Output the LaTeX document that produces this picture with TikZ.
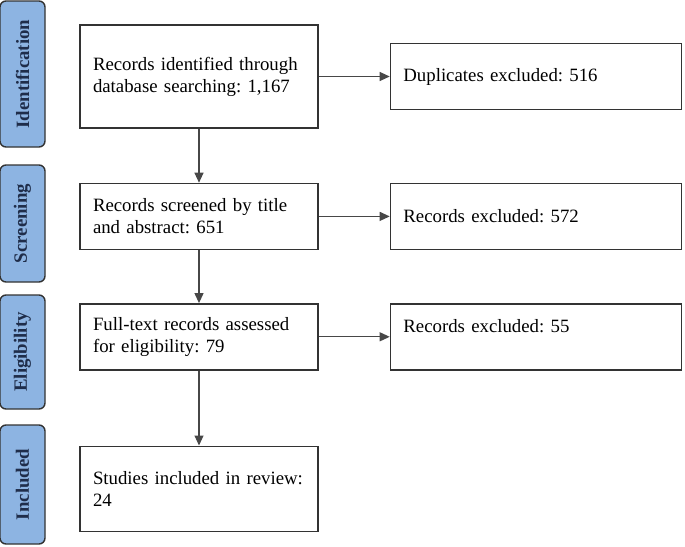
\documentclass[tikz,border=0pt]{standalone}
\usepackage{fontspec}
\setmainfont{Liberation Serif}
\usepackage{xcolor}
\usetikzlibrary{arrows.meta,positioning}
\definecolor{stagefill}{HTML}{8DB4E2}
\definecolor{stagetext}{HTML}{1F2D4A}
\definecolor{edgegray}{HTML}{333333}
\frenchspacing
\tikzset{
  box/.style={draw=edgegray, line width=1.4pt, align=left, text width=212pt, inner xsep=13pt, minimum height=66pt, fill=white, font=\fontsize{18.8}{22}\selectfont},
  excl/.style={box, text width=265pt},
  stage/.style={draw=edgegray, line width=1.4pt, rounded corners=6pt, fill=stagefill, rotate=90, minimum height=45pt, inner sep=0pt, text=stagetext, font=\bfseries\fontsize{18.8}{22}\selectfont},
  arr/.style={-{Triangle[length=10pt,width=9pt]}, line width=1.1pt, draw=edgegray!90},
}
\begin{document}
\begin{tikzpicture}[x=1pt, y=-1pt, node distance=54pt and 71pt]
\useasboundingbox (0,0) rectangle (685,546);
% phases
\node[stage, minimum width=146pt] (sid) at (22.5,74) {Identification};
\node[stage, minimum width=117pt] (ssc) at (22.5,223.5) {Screening};
\node[stage, minimum width=114pt] (sel) at (22.5,352) {Eligibility};
\node[stage, minimum width=119pt] (sin) at (22.5,484.5) {Included};
% flow
\node[box, minimum height=103pt] (ident) at (199,76.5) {Records identified through\\database searching: 1,167};
\node[excl, right=of ident] (dupl) {Duplicates excluded: 516};
\node[box, below=of ident] (scrn) {Records screened by title\\and abstract: 651};
\node[excl, right=of scrn] (exa) {Records excluded: 572};
\node[box, below=53pt of scrn] (full) {Full-text records assessed\\for eligibility: 79};
\node[excl, right=of full] (exb) {Records excluded: 55\\\mbox{}};
\node[box, below=75pt of full, minimum height=85pt] (incl) {Studies included in review:\\24};
\draw[arr] (ident) -- (dupl);
\draw[arr] (ident) -- (scrn);
\draw[arr] (scrn) -- (exa);
\draw[arr] (scrn) -- (full);
\draw[arr] (full) -- (exb);
\draw[arr] (full) -- (incl);
\end{tikzpicture}
\end{document}
